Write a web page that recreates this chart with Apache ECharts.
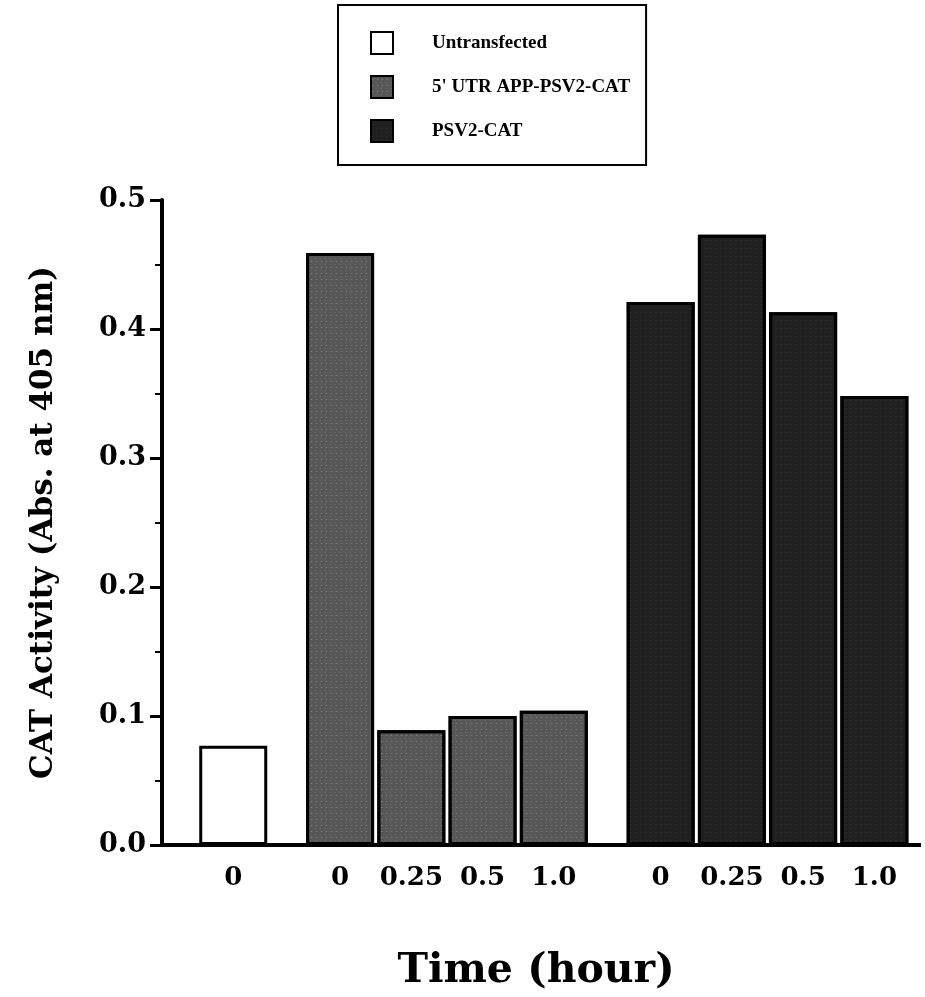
<!DOCTYPE html>
<html>
<head>
<meta charset="utf-8">
<script src="https://cdn.jsdelivr.net/npm/echarts@6/dist/echarts.min.js"></script>
<style>
html,body{margin:0;padding:0;background:#fff;}
#chart{width:925px;height:997px;}
</style>
</head>
<body>
<div id="chart"></div>
<script>
// ---- data ----
const seriesNames = ['Untransfected', "5' UTR APP-PSV2-CAT", 'PSV2-CAT'];
const untransfectedTimes = ['0'];
const untransfectedValues = [0.077];
const utrTimes = ['0', '0.25', '0.5', '1.0'];
const utrValues = [0.459, 0.089, 0.100, 0.104];
const psvTimes = ['0', '0.25', '0.5', '1.0'];
const psvValues = [0.421, 0.473, 0.413, 0.348];
const yTicks = [0.0, 0.1, 0.2, 0.3, 0.4, 0.5];
const xTitle = 'Time (hour)';
const yTitle = 'CAT Activity (Abs. at 405 nm)';

// ---- build slotted category axis (quarter-width slots) ----
const groups = [
  { times: untransfectedTimes, values: untransfectedValues },
  { times: utrTimes, values: utrValues },
  { times: psvTimes, values: psvValues }
];
const LEAD = 4, STEP = 4, GROUP_GAP = 6, TOTAL = 43;
const categories = new Array(TOTAL).fill('');
const seriesData = groups.map(() => new Array(TOTAL).fill(null));
let idx = LEAD;
groups.forEach((g, gi) => {
  g.times.forEach((t, k) => {
    categories[idx] = t;
    seriesData[gi][idx] = g.values[k];
    if (k < g.times.length - 1) idx += STEP;
  });
  idx += GROUP_GAP;
});

const FONT = '"DejaVu Serif", "Liberation Serif", serif';
const LFONT = '"Liberation Serif", "Times New Roman", serif';
const fills = ['#ffffff', '#575757', '#202020'];
const decals = [
  null,
  { symbol: 'rect', symbolSize: 0.5, color: 'rgba(255,255,255,0.45)', dashArrayX: [[3, 2], [1, 4]], dashArrayY: [1, 2], rotation: 0 },
  { symbol: 'rect', symbolSize: 0.4, color: 'rgba(255,255,255,0.25)', dashArrayX: [[1, 4], [2, 3]], dashArrayY: [1, 3], rotation: 0 }
];

const chart = echarts.init(document.getElementById('chart'), null, { renderer: 'canvas' });
chart.setOption({
  backgroundColor: '#fff',
  animation: false,
  legend: {
    orient: 'vertical',
    left: 338,
    top: 5,
    padding: [26, 16, 22, 32],
    borderColor: '#000',
    borderWidth: 2,
    itemWidth: 22,
    itemHeight: 22,
    itemGap: 20,
    icon: 'rect',
    textStyle: { fontFamily: LFONT, fontWeight: 'bold', fontSize: 19, color: '#000', padding: [0, 0, 0, 34] },
    data: seriesNames
  },
  grid: { left: 162, right: 15, top: 200, bottom: 144, containLabel: false },
  xAxis: {
    type: 'category',
    data: categories,
    boundaryGap: false,
    axisLine: { symbol: ['none', 'rect'], symbolSize: [4, 22], lineStyle: { color: '#000', width: 4 } },
    axisTick: { show: false },
    axisLabel: { interval: 0, margin: 20, fontFamily: FONT, fontWeight: 'bold', fontSize: 26, color: '#000' },
    name: xTitle,
    nameLocation: 'middle',
    nameGap: 106,
    nameTextStyle: { fontFamily: FONT, fontWeight: 'bold', fontSize: 41, color: '#000' },
    splitLine: { show: false }
  },
  yAxis: {
    type: 'value',
    min: yTicks[0],
    max: yTicks[yTicks.length - 1],
    interval: 0.1,
    axisLine: { show: true, lineStyle: { color: '#000', width: 4 } },
    axisTick: { show: true, inside: false, length: 12, lineStyle: { color: '#000', width: 3 } },
    minorTick: { show: true, splitNumber: 2, length: 7, lineStyle: { color: '#000', width: 2 } },
    splitLine: { show: false },
    axisLabel: { margin: 16, fontFamily: FONT, fontWeight: 'bold', fontSize: 27, color: '#000', formatter: v => v.toFixed(1) },
    name: yTitle,
    nameLocation: 'middle',
    nameRotate: 90,
    nameGap: 103,
    nameTextStyle: { fontFamily: FONT, fontWeight: 'bold', fontSize: 31, color: '#000' }
  },
  series: seriesNames.map((name, i) => ({
    name: name,
    type: 'bar',
    data: seriesData[i],
    barWidth: 68,
    barGap: '-100%',
    itemStyle: Object.assign({ color: fills[i], borderColor: '#000', borderWidth: 3 }, decals[i] ? { decal: decals[i] } : {})
  }))
});
</script>
</body>
</html>
